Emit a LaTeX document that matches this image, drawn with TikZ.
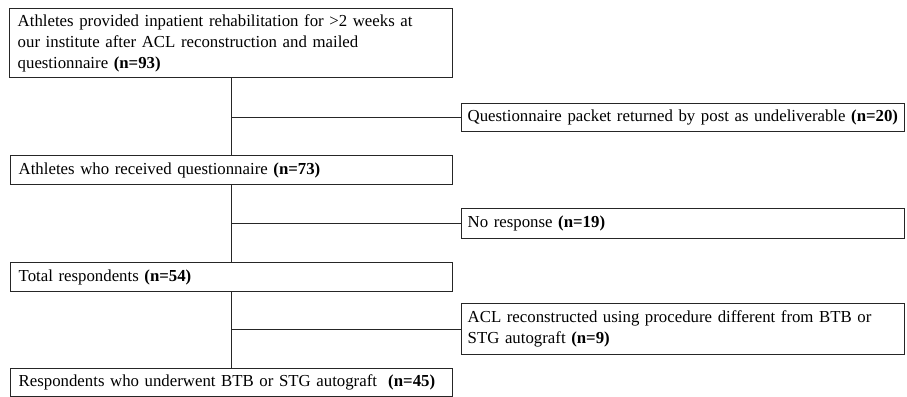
\documentclass[tikz,border=0pt]{standalone}
\usepackage{fontspec}
\setmainfont{Liberation Serif}
\begin{document}
\begin{tikzpicture}[x=1pt,y=-1pt,
  fbox/.style={draw=black!85, line width=1.4pt, anchor=north west, inner xsep=8pt, inner ysep=0pt,
    align=left, font=\fontsize{16.8}{21}\selectfont},
  conn/.style={draw=black!85, line width=1.3pt}]
\useasboundingbox (0,0) rectangle (907,396);
\node[fbox, text width=427pt, minimum height=69pt] (b1) at (9,8)
  {Athletes provided inpatient rehabilitation for >2 weeks at\\our institute after ACL reconstruction and mailed\\questionnaire \textbf{(n=93)}};
\node[fbox, minimum height=28pt, inner xsep=6pt, text width=431pt] (b2) at (461,103)
  {Questionnaire packet returned by post as undeliverable \textbf{(n=20)}};
\node[fbox, text width=426pt, minimum height=29pt] (b3) at (10,155)
  {Athletes who received questionnaire \textbf{(n=73)}};
\node[fbox, minimum height=30pt, inner xsep=6pt, text width=431pt] (b4) at (461,208)
  {No response \textbf{(n=19)}};
\node[fbox, text width=426pt, minimum height=29pt] (b5) at (10,262)
  {Total respondents \textbf{(n=54)}};
\node[fbox, minimum height=51pt, inner xsep=6pt, text width=431pt] (b6) at (461,303)
  {ACL reconstructed using procedure different from BTB or\\STG autograft \textbf{(n=9)}};
\node[fbox, text width=426pt, minimum height=28pt] (b7) at (10,368)
  {Respondents who underwent BTB or STG autograft\ \ \textbf{(n=45)}};
\coordinate (spine) at (231.5,0);
\draw[conn] (b1.south -| spine) -- (b3.north -| spine);
\draw[conn] (b3.south -| spine) -- (b5.north -| spine);
\draw[conn] (b5.south -| spine) -- (b7.north -| spine);
\draw[conn] (b2.west -| spine) -- (b2.west);
\draw[conn] (b4.west -| spine) -- (b4.west);
\draw[conn] (b6.west -| spine) -- (b6.west);
\end{tikzpicture}
\end{document}
